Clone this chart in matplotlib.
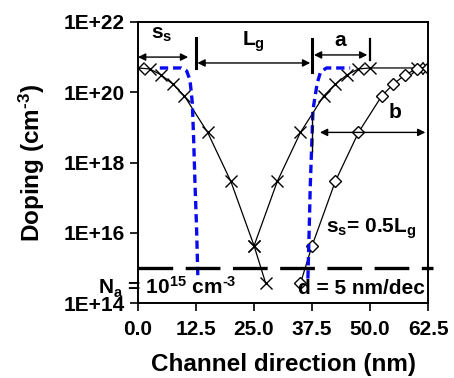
import numpy as np
import matplotlib
matplotlib.use("Agg")
import matplotlib.pyplot as plt

plt.rcParams['font.family'] = ['Liberation Sans', 'DejaVu Sans']
plt.rcParams['font.weight'] = 'bold'
plt.rcParams['mathtext.fontset'] = 'custom'
plt.rcParams['mathtext.bf'] = 'Liberation Sans:bold'
plt.rcParams['mathtext.rm'] = 'Liberation Sans:bold'
plt.rcParams['mathtext.it'] = 'Liberation Sans:bold'
plt.rcParams['mathtext.default'] = 'bf'
plt.rcParams['lines.scale_dashes'] = False

HY = "\u2010"  # short hyphen for the exponents

# source-side profile (x markers)
src_x = [0, 2.5, 5, 7.5, 10, 15, 20, 25, 27.5]
src_y = [4.9e20, 4.6e20, 3.1e20, 1.7e20, 7.8e19, 7.2e18, 2.9e17, 4.3e15, 3.7e14]
# drain-side profile, a = 0.5 Lg (x markers)
drn_x = [25, 30, 35, 40, 42.5, 45, 47.5, 50, 60, 62.5]
drn_y = [4.3e15, 2.9e17, 7.2e18, 7.8e19, 1.7e20, 3.1e20, 4.6e20, 4.9e20, 4.9e20, 4.9e20]
# drain-side profile shifted by b (diamonds)
dia_x = [35, 37.5, 42.5, 47.5, 52.5, 55, 57.5, 60, 62.5]
dia_y = [3.7e14, 4.3e15, 2.9e17, 7.2e18, 7.8e19, 1.7e20, 3.1e20, 4.6e20, 4.9e20]
# abrupt profiles (blue dashed)
abl_x = [4.7, 7.0, 9.3, 10.5, 11.2, 11.7, 12.0, 12.3, 12.6, 12.9]
abl_y = [4.9e20, 4.9e20, 4.9e20, 4.0e20, 2.2e20, 5.0e19, 4.0e18, 2.0e17, 1.6e16, 5.0e14]
abr_x = [36.6, 36.9, 37.1, 37.4, 37.7, 38.6, 39.3, 40.6, 43.0, 45.7]
abr_y = [5.0e14, 1.6e16, 2.0e17, 2.5e18, 3.2e19, 1.8e20, 3.7e20, 4.9e20, 4.9e20, 4.9e20]
Na = 1e15

xticks = [0, 12.5, 25, 37.5, 50, 62.5]
yticks = [1e14, 1e16, 1e18, 1e20, 1e22]
ytick_labels = ["1E+14", "1E+16", "1E+18", "1E+20", "1E+22"]

fig = plt.figure(figsize=(4.54, 3.78), dpi=100)
ax = fig.add_axes([0.304, 0.198, 0.639, 0.744])

ax.plot(src_x, src_y, color="black", lw=0.9, marker="x", ms=9, mew=1.0)
ax.plot(drn_x, drn_y, color="black", lw=0.9, marker="x", ms=9, mew=1.0)
ax.plot(dia_x, dia_y, color="black", lw=0.9, marker="D", ms=6, mew=1.0,
        mfc="white", mec="black")
ax.plot(abl_x, abl_y, color="#0a0af0", lw=2.4, dashes=(6, 3.5))
ax.plot(abr_x, abr_y, color="#0a0af0", lw=2.4, dashes=(6, 3.5))
ax.plot([0, 63.5], [Na, Na], color="black", lw=2.4, dashes=(25, 9), clip_on=False)

ax.set_yscale("log")
ax.set_xlim(0, 62.5)
ax.set_ylim(1e14, 1e22)
ax.set_xticks(xticks)
ax.set_xticklabels(["%.1f" % v for v in xticks])
ax.set_yticks(yticks)
ax.set_yticklabels(ytick_labels)
ax.minorticks_off()
ax.tick_params(labelsize=15, length=6, width=1.2, direction="out")
ax.tick_params(axis="x", pad=6)
for s in ax.spines.values():
    s.set_linewidth(1.4)

ax.set_xlabel("Channel direction (nm)", fontsize=17.5, fontweight="bold", labelpad=10)
ax.set_ylabel("Doping (cm$^{" + HY + "3}$)", fontsize=17.5, fontweight="bold", labelpad=12)

# dimension arrows and bars
arr = dict(arrowstyle="<|-|>", color="black", lw=1.0, mutation_scale=11,
           shrinkA=0, shrinkB=0)
ax.annotate("", xy=(0, 1.0e21), xytext=(10.8, 1.0e21), arrowprops=arr)
ax.annotate("", xy=(12.8, 6.8e20), xytext=(37.1, 6.8e20), arrowprops=arr)
ax.annotate("", xy=(37.9, 1.15e21), xytext=(49.4, 1.15e21), arrowprops=arr)
ax.annotate("", xy=(39.2, 7.2e18), xytext=(61.9, 7.2e18), arrowprops=arr)
ax.plot([12.4, 12.4], [3.4e21, 5.0e20], color="black", lw=2.2)
ax.plot([37.5, 37.5], [3.3e21, 3.7e20], color="black", lw=2.2)
ax.plot([50, 50], [3.3e21, 8.0e20], color="black", lw=1.6)
ax.plot([37.5, 37.5], [2.7e19, 2.2e18], color="black", lw=1.0)

ax.text(5.2, 3.4e21, "$s_s$", fontsize=15, ha="center", va="baseline")
ax.text(24.8, 2.1e21, "$L_g$", fontsize=15, ha="center", va="baseline")
ax.text(43.5, 2.1e21, "a", fontsize=15, fontweight="bold", ha="center", va="baseline")
ax.text(55.4, 1.8e19, "b", fontsize=15, fontweight="bold", ha="center", va="baseline")
ax.text(40.5, 1.0e16, "$s_s$= 0.5$L_g$", fontsize=15, ha="left", va="baseline")
ax.text(-8.6, 1.8e14, "$N_a$ = 10$^{15}$ cm$^{" + HY + "3}$", fontsize=15,
        ha="left", va="baseline")
ax.text(34.5, 1.8e14, "d = 5 nm/dec", fontsize=15, fontweight="bold",
        ha="left", va="baseline")

fig.savefig("out.png", dpi=100)
